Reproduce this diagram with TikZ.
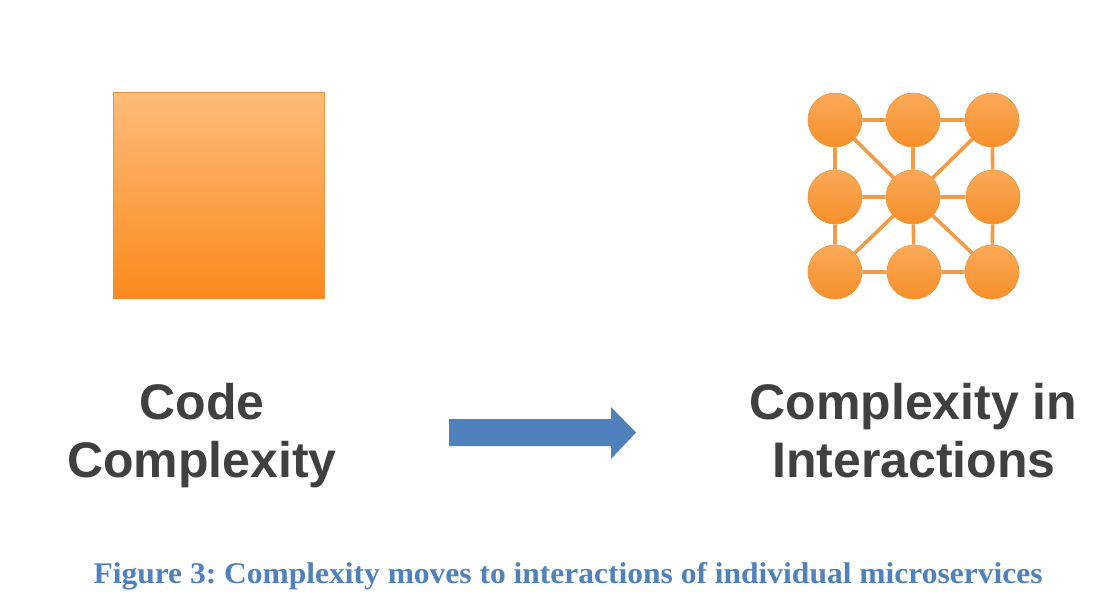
\documentclass[tikz,border=0pt]{standalone}
\usepackage{fontspec}
\setmainfont{Liberation Serif}
\newfontfamily\labelfont{Liberation Sans}
\usetikzlibrary{shadows}
\definecolor{sqtop}{HTML}{FDBC7A}
\definecolor{sqbot}{HTML}{FB8A1C}
\definecolor{sqedge}{HTML}{F0923A}
\definecolor{circtop}{HTML}{FBAA58}
\definecolor{circbot}{HTML}{F68F2A}
\definecolor{linkc}{HTML}{F29A45}
\definecolor{txtgray}{HTML}{404040}
\definecolor{arrowblue}{HTML}{4F81BD}
\definecolor{capblue}{HTML}{4F81BD}
\tikzset{
  svc/.style={circle, minimum size=54pt, inner sep=0pt, draw=sqedge, line width=0.6pt,
    top color=circtop, bottom color=circbot},
  link/.style={draw=linkc, line width=3.6pt},
  biglabel/.style={font=\labelfont\bfseries\fontsize{50}{58}\selectfont, text=txtgray,
    anchor=base, inner sep=0pt},
}
\begin{document}
\frenchspacing
\begin{tikzpicture}[x=1pt,y=-1pt]
\useasboundingbox (0,0) rectangle (1099,605);
% square
\node (sq) [draw=sqedge, line width=0.6pt, top color=sqtop, bottom color=sqbot,
  minimum width=211pt, minimum height=206pt, inner sep=0pt,
  drop shadow={opacity=0.15, shadow xshift=1pt, shadow yshift=-2pt}] at (218.5,195) {};
% network
\node (tl) [svc] at (835,120) {};
\node (tm) [svc] at (913,120) {};
\node (tr) [svc] at (992,120) {};
\node (ml) [svc] at (835,197) {};
\node (mc) [svc] at (913,197) {};
\node (mr) [svc] at (993,197) {};
\node (bl) [svc] at (835,272) {};
\node (bm) [svc] at (914,272) {};
\node (br) [svc] at (992,272) {};
\path[link] (tl) -- (tm) (tm) -- (tr) (ml) -- (mc) (mc) -- (mr) (bl) -- (bm) (bm) -- (br)
  (tl) -- (ml) (ml) -- (bl) (tm) -- (mc) (mc) -- (bm) (tr) -- (mr) (mr) -- (br)
  (tl) -- (mc) (tr) -- (mc) (bl) -- (mc) (br) -- (mc);
% labels
\node (code1) [biglabel] at (202,419) {Code};
\node (code2) [biglabel] at (202,477) {Complexity};
\node (int1) [biglabel] at (913.5,419) {Complexity in};
\node (int2) [biglabel] at (914,477) {Interactions};
% arrow
\fill[arrowblue] (449,419) -- (611,419) -- (611,407) -- (636,432.5) -- (611,459) -- (611,446) -- (449,446) -- cycle;
% caption
\node (cap) [text=capblue, font=\bfseries\fontsize{30}{36}\selectfont, inner sep=0pt, anchor=base] at (568,583)
  {\scalebox{1.05}[1.0]{Figure 3: Complexity moves to interactions of individual microservices}};
\end{tikzpicture}
\end{document}
